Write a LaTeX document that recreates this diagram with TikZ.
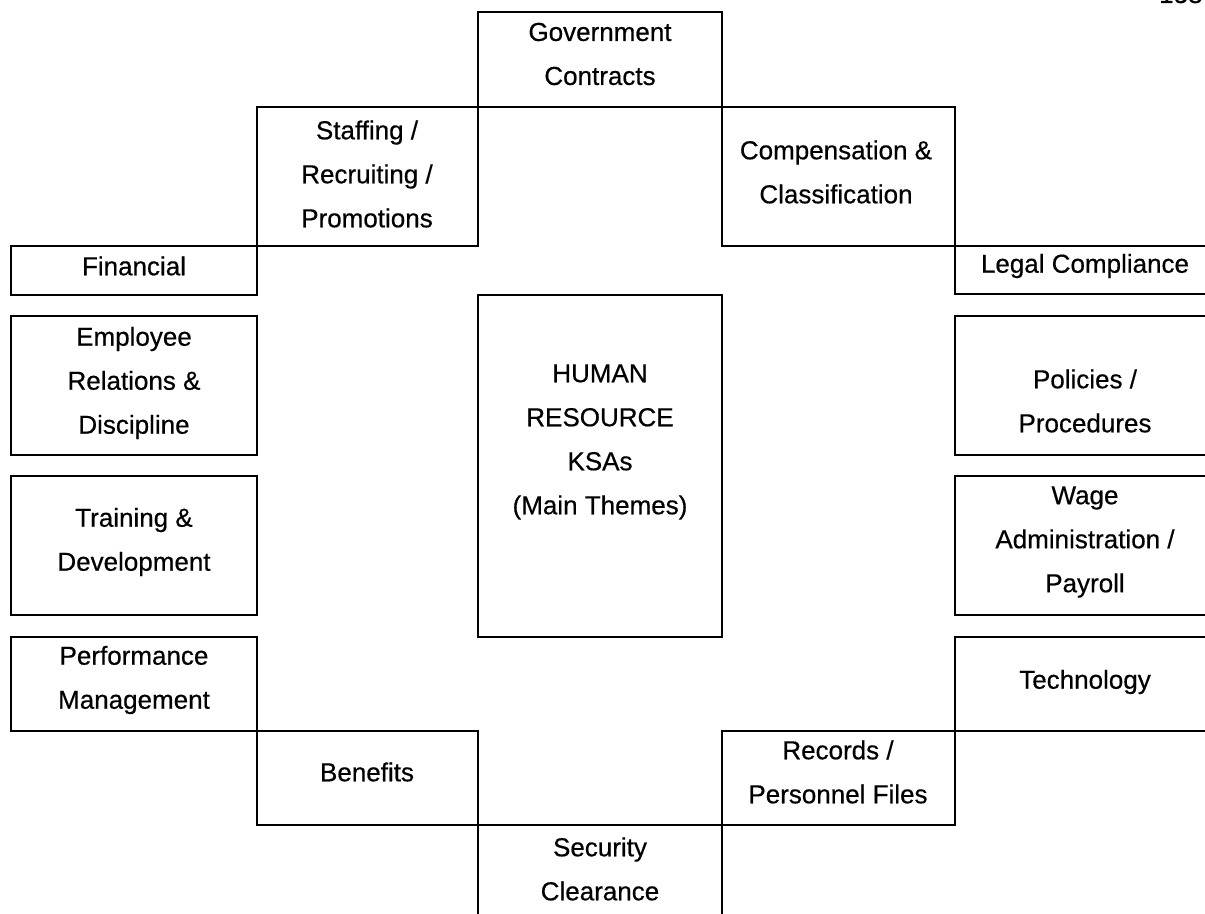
\documentclass[tikz,border=0pt]{standalone}
\usepackage{fontspec}
\setmainfont{Liberation Sans}[FakeBold=0.5]
\usetikzlibrary{fit}
\begin{document}
\begin{tikzpicture}[x=0.5pt,y=-0.5pt,
  cell/.style={draw=black, line width=1.2pt, inner sep=0pt, fill=none},
  lbl/.style={align=center, inner sep=0pt, font=\fontsize{13pt}{22pt}\selectfont},
  pagenum/.style={anchor=base east, inner sep=0pt, font=\fontsize{13pt}{14pt}\selectfont}]
\useasboundingbox (0,0) rectangle (1205,914);

% ring of theme boxes
\node[cell, fit={(478,12) (722,107)}]   (gov)   {};
\node[cell, fit={(257,107) (478,246)}]  (staff) {};
\node[cell, fit={(722,107) (955,246)}]  (comp)  {};
\node[cell, fit={(11,246) (257,295)}]   (fin)   {};
\node[cell, fit={(955,246) (1215,294)}] (legal) {};
\node[cell, fit={(11,316) (257,455)}]   (emp)   {};
\node[cell, fit={(955,316) (1215,455)}] (pol)   {};
\node[cell, fit={(11,476) (257,615)}]   (train) {};
\node[cell, fit={(955,476) (1215,615)}] (wage)  {};
\node[cell, fit={(11,637) (257,731)}]   (perf)  {};
\node[cell, fit={(955,637) (1215,731)}] (tech)  {};
\node[cell, fit={(257,731) (478,825)}]  (ben)   {};
\node[cell, fit={(722,731) (955,825)}]  (rec)   {};
\node[cell, fit={(478,825) (722,930)}]  (sec)   {};
% central box
\node[cell, fit={(478,295) (722,637)}]  (hr)    {};

% labels
\node[lbl] (govt)   at (600,54)  {Government\\Contracts};
\node[lbl] (stafft) at (367,174) {Staffing /\\Recruiting /\\Promotions};
\node[lbl] (compt)  at (836,172) {Compensation \&\\Classification};
\node[lbl] (fint)   at (134,266) {Financial};
\node[lbl] (legalt) at (1085,266) {Legal Compliance};
\node[lbl] (empt)   at (134,383) {Employee\\Relations \&\\Discipline};
\node[lbl] (polt)   at (1085,401) {Policies /\\Procedures};
\node[lbl] (traint) at (134,542) {Training \&\\Development};
\node[lbl] (waget)  at (1085,542) {Wage\\Administration /\\Payroll};
\node[lbl] (perft)  at (134,680) {Performance\\Management};
\node[lbl] (techt)  at (1085,682) {Technology};
\node[lbl] (bent)   at (367,772) {Benefits};
\node[lbl] (rect)   at (838,772) {Records /\\Personnel Files};
\node[lbl] (sect)   at (600,869) {Security\\Clearance};
\node[lbl] (hrt)    at (600,442) {HUMAN\\RESOURCE\\KSAs\\(Main Themes)};

% page number, mostly above the top edge
\node[pagenum] (pg) at (1203,3) {158};
\end{tikzpicture}
\end{document}
